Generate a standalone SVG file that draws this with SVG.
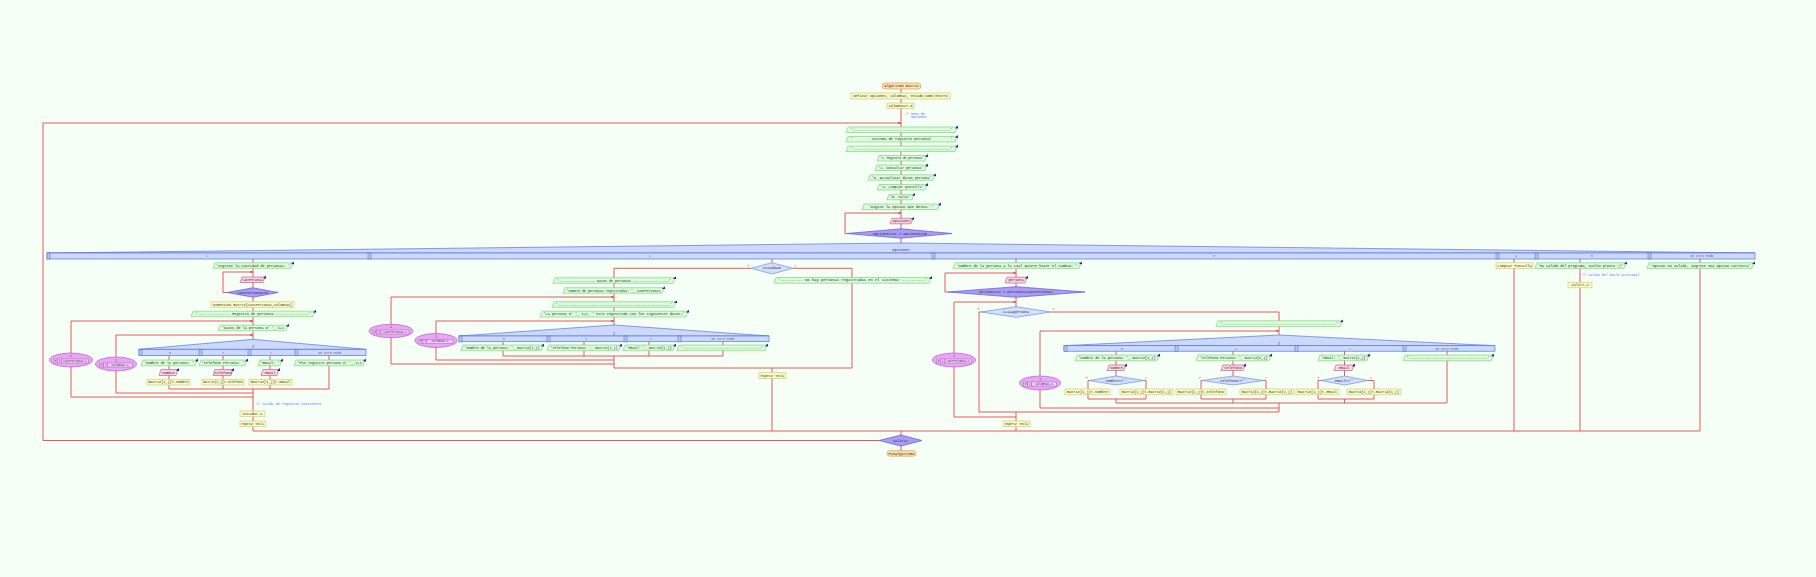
<svg xmlns="http://www.w3.org/2000/svg" xmlns:xlink="http://www.w3.org/1999/xlink" width="1816" height="577" viewBox="0 0 1816 577">
<style>
.t{font-family:"Liberation Mono","DejaVu Sans Mono",monospace;font-size:3.6px;fill:#2a2a2a;text-anchor:middle;dominant-baseline:central;white-space:pre}
.s{font-size:2.8px}
.cm{fill:#5a66ff;text-anchor:start;font-size:3.3px}
.lb{fill:#666;font-size:3.2px}
.vf{fill:#e0403c;font-size:2.6px}
.term{fill:#fde2b0;stroke:#d9a448;stroke-width:.7}
.proc{fill:#fbfbc8;stroke:#cfcf70;stroke-width:.7}
.out{fill:#d9fbd9;stroke:#82d482;stroke-width:.7}
.in{fill:#fbd5e6;stroke:#d0608e;stroke-width:.7}
.loop{fill:#a99cf5;stroke:#6452dc;stroke-width:.7}
.si{fill:#d3defc;stroke:#7090e0;stroke-width:.7}
.seg{fill:#cdd9fc;stroke:#5577dd;stroke-width:.7}
.segm{fill:#b4c4f4;stroke:#4466cc;stroke-width:.5}
.para{fill:#eaa6f6;stroke:#b45ccc;stroke-width:.7}
.cell{fill:#f3cdf9;stroke:#9a48b0;stroke-width:.4}
.c{fill:none;stroke:#e24848;stroke-width:.9}
.ico{fill:#1e2c9c}
</style>
<defs>
<marker id="ah" viewBox="0 0 6 6" refX="6" refY="3" markerWidth="3" markerHeight="3" orient="auto"><path d="M0,0L6,3L0,6z" fill="#e24848"/></marker>
<path id="ico" class="ico" d="M-2,1.2L0.8,-1.4L1.2,1.4z"/>
<rect id="sm" class="segm" x="0" y="0" width="3" height="6"/>
</defs>
<rect width="1816" height="577" fill="#f6fff6"/>

<g id="connectors">
<path class="c" d="M901,89V243"/>
<path class="c" d="M879,440.5H43V123H901" marker-end="url(#ah)"/>
<path class="c" d="M847,233.5H845V213H901" marker-end="url(#ah)"/>
<path class="c" d="M253,259V339M253,389V431"/>
<path class="c" d="M227,292.5H223V272H253" marker-end="url(#ah)"/>
<path class="c" d="M253,397H71V321H253" marker-end="url(#ah)"/>
<path class="c" d="M253,393H116V335H253" marker-end="url(#ah)"/>
<path class="c" d="M169,356V389M223,356V389M270,356V389M329,356V389M169,389H329"/>
<path class="c" d="M772,259V263M751,268.3H614V325M793,268.3H852V368M614,356V368M614,368H852M772,368V431"/>
<path class="c" d="M614,364H391V297H614" marker-end="url(#ah)"/>
<path class="c" d="M614,360H436V321H614" marker-end="url(#ah)"/>
<path class="c" d="M503,342V356M584,342V356M649,342V356M723,342V356M503,356H723"/>
<path class="c" d="M1016,259V307"/>
<path class="c" d="M948,292H945V273H1016" marker-end="url(#ah)"/>
<path class="c" d="M1016,417H954V302H1016" marker-end="url(#ah)"/>
<path class="c" d="M981,312H979V412M1051,312H1279V335"/>
<path class="c" d="M1279,408H1040V331H1279" marker-end="url(#ah)"/>
<path class="c" d="M1116,351V376M1233,351V376M1344.5,351V376M1447,351V403"/>
<path class="c" d="M1089,380.5H1088V399H1146V380.5H1144M1116,399V403"/>
<path class="c" d="M1202,380.5H1201V399H1266V380.5H1264M1233,399V403"/>
<path class="c" d="M1321,380.5H1318V399H1374V380.5H1368M1344.5,399V403"/>
<path class="c" d="M1116,403H1447M1279,403V412M979,412H1279M1016,412V431"/>
<path class="c" d="M1514,259V431M1580,259V431M1700,259V431"/>
<path class="c" d="M253,431H1700M901,431V451"/>
</g>

<g id="n_inicio"><rect class="term" x="882" y="83" width="39" height="6" rx="3"/><text class="t" x="901.5" y="86">Algoritmo matriz</text></g>
<g id="n_definir"><rect class="proc" x="851" y="93" width="99" height="6"/><text class="t" x="900.5" y="96" textLength="94" lengthAdjust="spacingAndGlyphs">Definir opciones, columnas, estado Como Entero</text></g>
<g id="n_columnas"><rect class="proc" x="887" y="103" width="27" height="5.5"/><text class="t" x="900.5" y="105.8">columnas&lt;-3</text></g>
<g id="n_coment1"><text class="t cm" x="905" y="113.5">// Menu de</text><text class="t cm" x="905" y="117">   opciones</text></g>
<g id="n_o1"><polygon class="out" points="848,127 957,127 955,132.5 846,132.5"/><use href="#ico" x="957" y="127"/><text class="t" x="901.5" y="129.8" textLength="102" lengthAdjust="spacingAndGlyphs">'----------------------------------------------'</text></g>
<g id="n_o2"><polygon class="out" points="848,136.5 957,136.5 955,142 846,142"/><use href="#ico" x="957" y="136.5"/><text class="t" x="901.5" y="139.3" textLength="102" lengthAdjust="spacingAndGlyphs">'         Sistema de registro personal         '</text></g>
<g id="n_o3"><polygon class="out" points="848,146 957,146 955,151.5 846,151.5"/><use href="#ico" x="957" y="146"/><text class="t" x="901.5" y="148.8" textLength="102" lengthAdjust="spacingAndGlyphs">'----------------------------------------------'</text></g>
<g id="n_o4"><polygon class="out" points="879,155.5 927,155.5 925,161 877,161"/><use href="#ico" x="927" y="155.5"/><text class="t" x="902" y="158.3" textLength="44" lengthAdjust="spacingAndGlyphs">'1. Registro de personas'</text></g>
<g id="n_o5"><polygon class="out" points="877,165 927,165 925,170.5 875,170.5"/><use href="#ico" x="927" y="165"/><text class="t" x="901" y="167.8" textLength="45" lengthAdjust="spacingAndGlyphs">'2. Consultar personas'</text></g>
<g id="n_o6"><polygon class="out" points="870,174.8 935,174.8 933,180.3 868,180.3"/><use href="#ico" x="935" y="174.8"/><text class="t" x="901.5" y="177.6" textLength="60" lengthAdjust="spacingAndGlyphs">'3. Actualizar datos persona'</text></g>
<g id="n_o7"><polygon class="out" points="879,184.5 927,184.5 925,190 877,190"/><use href="#ico" x="927" y="184.5"/><text class="t" x="902" y="187.3" textLength="43" lengthAdjust="spacingAndGlyphs">'4. Limpiar pantalla'</text></g>
<g id="n_o8"><polygon class="out" points="889,194.3 914,194.3 912,199.8 887,199.8"/><use href="#ico" x="914" y="194.3"/><text class="t" x="900.5" y="197">'5. Salir'</text></g>
<g id="n_o9"><polygon class="out" points="864,204 940,204 938,209.5 862,209.5"/><use href="#ico" x="940" y="204"/><text class="t" x="901" y="206.8">'Digite la opcion que desea: '</text></g>
<g id="n_leer_op"><polygon class="in" points="892,218.3 913,218.3 911,223.8 890,223.8"/><use href="#ico" x="913" y="218.3"/><text class="t" x="901.5" y="221">opciones</text></g>
<g id="n_rep_op"><polygon class="loop" points="847,233.5 901,228.8 952,233.5 901,238.2"/><text class="t" x="900" y="233.5">opciones&gt;=1 Y opciones&lt;=5</text></g>

<g id="n_segun">
<polygon class="seg" points="47,253 901,243 1755,253"/>
<rect class="seg" x="47" y="253" width="1708" height="6"/>
<text class="t" x="901" y="250.3">opciones</text>
<use href="#sm" x="47" y="253"/><use href="#sm" x="368" y="253"/><use href="#sm" x="932" y="253"/><use href="#sm" x="1496" y="253"/><use href="#sm" x="1535" y="253"/><use href="#sm" x="1648" y="253"/>
<text class="t lb" x="207" y="256">1</text><text class="t lb" x="650" y="256">2</text><text class="t lb" x="1214" y="256">3</text><text class="t lb" x="1516" y="256">4</text><text class="t lb" x="1592" y="256">5</text><text class="t lb" x="1702" y="256">De Otro Modo</text>
</g>

<g id="n_c1_o1"><polygon class="out" points="215,262.8 293,262.8 291,268.3 213,268.3"/><use href="#ico" x="293" y="262.8"/><text class="t" x="253" y="265.6" textLength="74" lengthAdjust="spacingAndGlyphs">'Ingrese la cantidad de personas: '</text></g>
<g id="n_c1_leer"><polygon class="in" points="242,277 265,277 263,282.5 240,282.5"/><use href="#ico" x="265" y="277"/><text class="t" x="252.5" y="279.8" textLength="20" lengthAdjust="spacingAndGlyphs">cantPersonas</text></g>
<g id="n_c1_rep"><polygon class="loop" points="227,292.5 253,287.8 278,292.5 253,297.2"/><text class="t" x="252.5" y="292.5">cantPersonas&gt;0</text></g>
<g id="n_c1_dim"><rect class="proc" x="211" y="301.8" width="83" height="5.5"/><text class="t" x="252.5" y="304.6" textLength="79" lengthAdjust="spacingAndGlyphs">Dimension matriz[cantPersonas,columnas]</text></g>
<g id="n_c1_o2"><polygon class="out" points="193,311.2 315,311.2 313,316.7 191,316.7"/><use href="#ico" x="315" y="311.2"/><text class="t" x="253" y="314" textLength="116" lengthAdjust="spacingAndGlyphs">'---------------- Registro de personas ----------------'</text></g>
<g id="n_c1_para_i"><ellipse class="para" cx="71" cy="360" rx="21.5" ry="7"/><text class="t s" x="71" y="356.2">i</text><rect class="cell" x="53.5" y="359" width="4" height="4"/><rect class="cell" x="57.5" y="359" width="4" height="4"/><rect class="cell" x="61.5" y="359" width="27" height="4"/><text class="t s" x="55.5" y="361">0</text><text class="t s" x="59.5" y="361">1</text><text class="t s" x="75" y="361">cantPersonas-1</text></g>
<g id="n_c1_o3"><polygon class="out" points="220,325.2 288,325.2 286,330.7 218,330.7"/><use href="#ico" x="288" y="325.2"/><text class="t" x="253" y="328" textLength="62" lengthAdjust="spacingAndGlyphs">'Datos de la persona N° ', i+1</text></g>
<g id="n_c1_para_j"><ellipse class="para" cx="116" cy="364" rx="20.5" ry="7"/><text class="t s" x="116" y="360.2">j</text><rect class="cell" x="99.5" y="363" width="4" height="4"/><rect class="cell" x="103.5" y="363" width="4" height="4"/><rect class="cell" x="107.5" y="363" width="25" height="4"/><text class="t s" x="101.5" y="365">0</text><text class="t s" x="105.5" y="365">1</text><text class="t s" x="120" y="365">columnas-1</text></g>
<g id="n_c1_segun">
<polygon class="seg" points="139,349.3 253,339.3 366,349.3"/><rect class="seg" x="139" y="349.3" width="227" height="6.3"/><text class="t" x="253" y="346.3">j</text>
<use href="#sm" x="139" y="349.5"/><use href="#sm" x="199" y="349.5"/><use href="#sm" x="248" y="349.5"/><use href="#sm" x="295" y="349.5"/>
<text class="t lb" x="170" y="352.5">0</text><text class="t lb" x="223" y="352.5">1</text><text class="t lb" x="271" y="352.5">2</text><text class="t lb" x="330" y="352.5">De Otro Modo</text>
</g>
<g id="n_c1_nom_o"><polygon class="out" points="143,360 197,360 195,365.7 141,365.7"/><use href="#ico" x="197" y="360"/><text class="t" x="169" y="362.9" textLength="50" lengthAdjust="spacingAndGlyphs">'Nombre de la persona: '</text></g>
<g id="n_c1_tel_o"><polygon class="out" points="201,360 247,360 245,365.7 199,365.7"/><use href="#ico" x="247" y="360"/><text class="t" x="223" y="362.9">'Telefono Persona: '</text></g>
<g id="n_c1_ema_o"><polygon class="out" points="260,360 282,360 280,365.7 258,365.7"/><use href="#ico" x="282" y="360"/><text class="t" x="270" y="362.9">'Email: '</text></g>
<g id="n_c1_fin_o"><polygon class="out" points="296,360 365,360 363,365.7 294,365.7"/><use href="#ico" x="365" y="360"/><text class="t" x="329.5" y="362.9" textLength="64" lengthAdjust="spacingAndGlyphs">'Fin registro persona N° ', i+1</text></g>
<g id="n_c1_nom_i"><polygon class="in" points="161,369.5 178,369.5 176,375.5 159,375.5"/><use href="#ico" x="178" y="369.5"/><text class="t" x="168.5" y="372.5">nombre</text></g>
<g id="n_c1_tel_i"><polygon class="in" points="215,369.5 233,369.5 231,375.5 213,375.5"/><use href="#ico" x="233" y="369.5"/><text class="t" x="223" y="372.5">telefono</text></g>
<g id="n_c1_ema_i"><polygon class="in" points="263,369.5 279,369.5 277,375.5 261,375.5"/><use href="#ico" x="279" y="369.5"/><text class="t" x="270" y="372.5">email</text></g>
<g id="n_c1_nom_a"><rect class="proc" x="147" y="379.3" width="43" height="5.7"/><text class="t" x="168.5" y="382.2" textLength="40" lengthAdjust="spacingAndGlyphs">matriz[i,j]&lt;-nombre</text></g>
<g id="n_c1_tel_a"><rect class="proc" x="202" y="379.3" width="42" height="5.7"/><text class="t" x="223" y="382.2" textLength="39" lengthAdjust="spacingAndGlyphs">matriz[i,j]&lt;-telefono</text></g>
<g id="n_c1_ema_a"><rect class="proc" x="249" y="379.3" width="43" height="5.7"/><text class="t" x="270.5" y="382.2" textLength="39" lengthAdjust="spacingAndGlyphs">matriz[i,j]&lt;-email</text></g>
<g id="n_c1_coment"><text class="t cm" x="256" y="404.3">// Salida de registros existentes</text></g>
<g id="n_c1_estado"><rect class="proc" x="240" y="411" width="25" height="5.7"/><text class="t" x="252.5" y="413.9">estado&lt;-1</text></g>
<g id="n_c1_esperar"><rect class="proc" x="240" y="421" width="25.5" height="5.7"/><text class="t" x="252.7" y="423.9" textLength="22" lengthAdjust="spacingAndGlyphs">Esperar Tecla</text></g>

<g id="n_c2_si"><polygon class="si" points="751,268.3 772,262.7 793,268.3 772,274"/><text class="t" x="772" y="268.3">estado=0</text><text class="t vf" x="748.5" y="266.3">F</text><text class="t vf" x="795.5" y="266.3">V</text></g>
<g id="n_c2_o1"><polygon class="out" points="555,277.7 675,277.7 673,283.3 553,283.3"/><use href="#ico" x="675" y="277.7"/><text class="t" x="614" y="280.5" textLength="114" lengthAdjust="spacingAndGlyphs">'------------------ Datos de personas ------------------'</text></g>
<g id="n_c2_o2"><polygon class="out" points="565,287.7 664,287.7 662,293.3 563,293.3"/><use href="#ico" x="664" y="287.7"/><text class="t" x="613.5" y="290.5" textLength="94" lengthAdjust="spacingAndGlyphs">'Numero de personas registradas: ', cantPersonas</text></g>
<g id="n_c2_para_i"><ellipse class="para" cx="391" cy="331" rx="22" ry="6.7"/><text class="t s" x="391" y="327.3">i</text><rect class="cell" x="373" y="330" width="4" height="4"/><rect class="cell" x="377" y="330" width="4" height="4"/><rect class="cell" x="381" y="330" width="28" height="4"/><text class="t s" x="375" y="332">0</text><text class="t s" x="379" y="332">1</text><text class="t s" x="395" y="332">cantPersonas-1</text></g>
<g id="n_c2_o3"><polygon class="out" points="554,301.7 676,301.7 674,307.3 552,307.3"/><use href="#ico" x="676" y="301.7"/><text class="t" x="614" y="304.5" textLength="116" lengthAdjust="spacingAndGlyphs">'------------------------------------------------------'</text></g>
<g id="n_c2_o4"><polygon class="out" points="542,311.2 688,311.2 686,317 540,317"/><use href="#ico" x="688" y="311.2"/><text class="t" x="614" y="314.1" textLength="141" lengthAdjust="spacingAndGlyphs">'La persona N° ', i+1, ' esta registrada con los siguientes datos:'</text></g>
<g id="n_c2_para_j"><ellipse class="para" cx="436" cy="340.5" rx="21" ry="7"/><text class="t s" x="436" y="336.7">j</text><rect class="cell" x="419" y="339.5" width="4" height="4"/><rect class="cell" x="423" y="339.5" width="4" height="4"/><rect class="cell" x="427" y="339.5" width="26" height="4"/><text class="t s" x="421" y="341.5">0</text><text class="t s" x="425" y="341.5">1</text><text class="t s" x="440" y="341.5">columnas-1</text></g>
<g id="n_c2_segun">
<polygon class="seg" points="459,336 614,325 769,336"/><rect class="seg" x="459" y="336" width="310" height="5.7"/><text class="t" x="614" y="333">j</text>
<use href="#sm" x="459" y="336"/><use href="#sm" x="547" y="336"/><use href="#sm" x="624" y="336"/><use href="#sm" x="678" y="336"/>
<text class="t lb" x="504" y="338.9">0</text><text class="t lb" x="586" y="338.9">1</text><text class="t lb" x="651" y="338.9">2</text><text class="t lb" x="723" y="338.9">De Otro Modo</text>
</g>
<g id="n_c2_nom"><polygon class="out" points="463,345 543,345 541,350.7 461,350.7"/><use href="#ico" x="543" y="345"/><text class="t" x="502" y="347.9" textLength="75" lengthAdjust="spacingAndGlyphs">'Nombre de la persona: ', matriz[i,j]</text></g>
<g id="n_c2_tel"><polygon class="out" points="549,345 621,345 619,350.7 547,350.7"/><use href="#ico" x="621" y="345"/><text class="t" x="584" y="347.9" textLength="67" lengthAdjust="spacingAndGlyphs">'Telefono Persona: ', matriz[i,j]</text></g>
<g id="n_c2_ema"><polygon class="out" points="625,345 675,345 673,350.7 623,350.7"/><use href="#ico" x="675" y="345"/><text class="t" x="649" y="347.9" textLength="45" lengthAdjust="spacingAndGlyphs">'Email: ', matriz[i,j]</text></g>
<g id="n_c2_otro"><polygon class="out" points="679,345 767,345 765,350.7 677,350.7"/><use href="#ico" x="767" y="345"/><text class="t" x="722" y="347.9" textLength="83" lengthAdjust="spacingAndGlyphs">'--------------------------------------'</text></g>
<g id="n_c2_nohay"><polygon class="out" points="776,277.5 931,277.5 929,283.2 774,283.2"/><use href="#ico" x="931" y="277.5"/><text class="t" x="852.5" y="280.4" textLength="149" lengthAdjust="spacingAndGlyphs">'---------- No hay personas registradas en el sistema! ----------'</text></g>
<g id="n_c2_esperar"><rect class="proc" x="759" y="372.7" width="27" height="5.7"/><text class="t" x="772.5" y="375.6" textLength="23" lengthAdjust="spacingAndGlyphs">Esperar Tecla</text></g>

<g id="n_c3_o1"><polygon class="out" points="955,262.8 1081,262.8 1079,268.4 953,268.4"/><use href="#ico" x="1081" y="262.8"/><text class="t" x="1017" y="265.7" textLength="121" lengthAdjust="spacingAndGlyphs">'Nombre de la persona a la cual quiere hacer el cambio: '</text></g>
<g id="n_c3_leer"><polygon class="in" points="1007,277.2 1027,277.2 1025,283 1005,283"/><use href="#ico" x="1027" y="277.2"/><text class="t" x="1016" y="280.1">persona</text></g>
<g id="n_c3_rep"><polygon class="loop" points="948,292 1016,286.7 1085,292 1016,297.3"/><text class="t" x="1016" y="292">persona&gt;=1 Y persona&lt;=cantPersonas</text></g>
<g id="n_c3_para_i"><ellipse class="para" cx="954" cy="360" rx="21.5" ry="7"/><text class="t s" x="954" y="356.2">i</text><rect class="cell" x="936.5" y="359" width="4" height="4"/><rect class="cell" x="940.5" y="359" width="4" height="4"/><rect class="cell" x="944.5" y="359" width="27" height="4"/><text class="t s" x="938.5" y="361">0</text><text class="t s" x="942.5" y="361">1</text><text class="t s" x="958" y="361">cantPersonas-1</text></g>
<g id="n_c3_si"><polygon class="si" points="981,312 1016,306.7 1051,312 1016,317.3"/><text class="t" x="1016" y="312">i+1==persona</text><text class="t vf" x="978.5" y="309.8">F</text><text class="t vf" x="1053.5" y="309.8">V</text></g>
<g id="n_c3_o2"><polygon class="out" points="1218,320.8 1342,320.8 1340,326.6 1216,326.6"/><use href="#ico" x="1342" y="320.8"/><text class="t" x="1279" y="323.7" textLength="118" lengthAdjust="spacingAndGlyphs">'------------------------------------------------------'</text></g>
<g id="n_c3_para_j"><ellipse class="para" cx="1040" cy="383" rx="20.5" ry="7"/><text class="t s" x="1040" y="379.2">j</text><rect class="cell" x="1023.5" y="382" width="4" height="4"/><rect class="cell" x="1027.5" y="382" width="4" height="4"/><rect class="cell" x="1031.5" y="382" width="25" height="4"/><text class="t s" x="1025.5" y="384">0</text><text class="t s" x="1029.5" y="384">1</text><text class="t s" x="1044" y="384">columnas-1</text></g>
<g id="n_c3_segun">
<polygon class="seg" points="1064,345.7 1279,335 1495,345.7"/><rect class="seg" x="1064" y="345.7" width="431" height="5.5"/><text class="t" x="1279" y="342.8">j</text>
<use href="#sm" x="1064" y="345.5"/><use href="#sm" x="1175" y="345.5"/><use href="#sm" x="1295" y="345.5"/><use href="#sm" x="1403" y="345.5"/>
<text class="t lb" x="1122" y="348.5">0</text><text class="t lb" x="1236" y="348.5">1</text><text class="t lb" x="1350" y="348.5">2</text><text class="t lb" x="1447" y="348.5">De Otro Modo</text>
</g>
<g id="n_c3_nom_o"><polygon class="out" points="1077,355 1159,355 1157,360.8 1075,360.8"/><use href="#ico" x="1159" y="355"/><text class="t" x="1117" y="357.9" textLength="77" lengthAdjust="spacingAndGlyphs">'Nombre de la persona: ', matriz[i,j]</text></g>
<g id="n_c3_tel_o"><polygon class="out" points="1198,355 1271,355 1269,360.8 1196,360.8"/><use href="#ico" x="1271" y="355"/><text class="t" x="1233.5" y="357.9" textLength="68" lengthAdjust="spacingAndGlyphs">'Telefono Persona: ', matriz[i,j]</text></g>
<g id="n_c3_ema_o"><polygon class="out" points="1320,355 1369,355 1367,360.8 1318,360.8"/><use href="#ico" x="1369" y="355"/><text class="t" x="1343.5" y="357.9" textLength="44" lengthAdjust="spacingAndGlyphs">'Email: ', matriz[i,j]</text></g>
<g id="n_c3_otro"><polygon class="out" points="1405,355 1493,355 1491,360.8 1403,360.8"/><use href="#ico" x="1493" y="355"/><text class="t" x="1448" y="357.9" textLength="83" lengthAdjust="spacingAndGlyphs">'--------------------------------------'</text></g>
<g id="n_c3_nom_i"><polygon class="in" points="1109,365 1126,365 1124,370.5 1107,370.5"/><use href="#ico" x="1126" y="365"/><text class="t" x="1116.5" y="367.8">nombre</text></g>
<g id="n_c3_tel_i"><polygon class="in" points="1223,365 1245,365 1243,370.5 1221,370.5"/><use href="#ico" x="1245" y="365"/><text class="t" x="1233" y="367.8">telefono</text></g>
<g id="n_c3_ema_i"><polygon class="in" points="1336,365 1354,365 1352,370.5 1334,370.5"/><use href="#ico" x="1354" y="365"/><text class="t" x="1344" y="367.8">email</text></g>
<g id="n_c3_nom_si"><polygon class="si" points="1089,380.5 1116,376 1144,380.5 1116,385"/><text class="t" x="1116.5" y="380.5">nombre&lt;&gt;''</text><text class="t vf" x="1087" y="378.5">F</text><text class="t vf" x="1146" y="378.5">V</text></g>
<g id="n_c3_tel_si"><polygon class="si" points="1202,380.5 1233,376 1264,380.5 1233,385"/><text class="t" x="1233" y="380.5">telefono&lt;&gt;''</text><text class="t vf" x="1200" y="378.5">F</text><text class="t vf" x="1266" y="378.5">V</text></g>
<g id="n_c3_ema_si"><polygon class="si" points="1321,380.5 1344.5,376 1368,380.5 1344.5,385"/><text class="t" x="1344.5" y="380.5">email&lt;&gt;''</text><text class="t vf" x="1318.5" y="378.5">F</text><text class="t vf" x="1371" y="378.5">V</text></g>
<g id="n_c3_a1"><rect class="proc" x="1065" y="389" width="45" height="5.8"/><text class="t" x="1087.5" y="391.9" textLength="41" lengthAdjust="spacingAndGlyphs">matriz[i,j]&lt;-nombre</text></g>
<g id="n_c3_a2"><rect class="proc" x="1120" y="389" width="53" height="5.8"/><text class="t" x="1146.5" y="391.9" textLength="49" lengthAdjust="spacingAndGlyphs">matriz[i,j]&lt;-matriz[i,j]</text></g>
<g id="n_c3_a3"><rect class="proc" x="1176" y="389" width="50" height="5.8"/><text class="t" x="1201" y="391.9" textLength="46" lengthAdjust="spacingAndGlyphs">matriz[i,j]&lt;-telefono</text></g>
<g id="n_c3_a4"><rect class="proc" x="1240" y="389" width="54" height="5.8"/><text class="t" x="1267" y="391.9" textLength="50" lengthAdjust="spacingAndGlyphs">matriz[i,j]&lt;-matriz[i,j]</text></g>
<g id="n_c3_a5"><rect class="proc" x="1296" y="389" width="43" height="5.8"/><text class="t" x="1317.5" y="391.9" textLength="39" lengthAdjust="spacingAndGlyphs">matriz[i,j]&lt;-email</text></g>
<g id="n_c3_a6"><rect class="proc" x="1347" y="389" width="54" height="5.8"/><text class="t" x="1374" y="391.9" textLength="50" lengthAdjust="spacingAndGlyphs">matriz[i,j]&lt;-matriz[i,j]</text></g>
<g id="n_c3_esperar"><rect class="proc" x="1003" y="421" width="27" height="5.7"/><text class="t" x="1016.5" y="423.9" textLength="23" lengthAdjust="spacingAndGlyphs">Esperar Tecla</text></g>

<g id="n_c4_limpiar"><rect class="proc" x="1496" y="262.8" width="37" height="5.6"/><text class="t" x="1514.5" y="265.6">Limpiar Pantalla</text></g>
<g id="n_c5_o"><polygon class="out" points="1537,262.8 1626,262.8 1624,268.4 1535,268.4"/><use href="#ico" x="1626" y="262.8"/><text class="t" x="1580.5" y="265.6" textLength="85" lengthAdjust="spacingAndGlyphs">'Ha salido del programa, vuelva pronto :)'</text></g>
<g id="n_c5_coment"><text class="t cm" x="1582" y="275">// Salida del bucle principal</text></g>
<g id="n_c5_salir"><rect class="proc" x="1568" y="282.3" width="24" height="5.5"/><text class="t" x="1580" y="285.1">salir&lt;-1</text></g>
<g id="n_otro_o"><polygon class="out" points="1649,262.8 1754,262.8 1752,268.4 1647,268.4"/><use href="#ico" x="1754" y="262.8"/><text class="t" x="1700.5" y="265.6" textLength="100" lengthAdjust="spacingAndGlyphs">'Opcion no valida, ingrese una opcion correcta'</text></g>

<g id="n_rep_fin"><polygon class="loop" points="879,440.5 901,435 922,440.5 901,446"/><text class="t" x="900.5" y="440.5">salir=1</text></g>
<g id="n_fin"><rect class="term" x="887" y="450.7" width="29" height="5.5" rx="2.75"/><text class="t" x="901.5" y="453.5">FinAlgoritmo</text></g>
</svg>
